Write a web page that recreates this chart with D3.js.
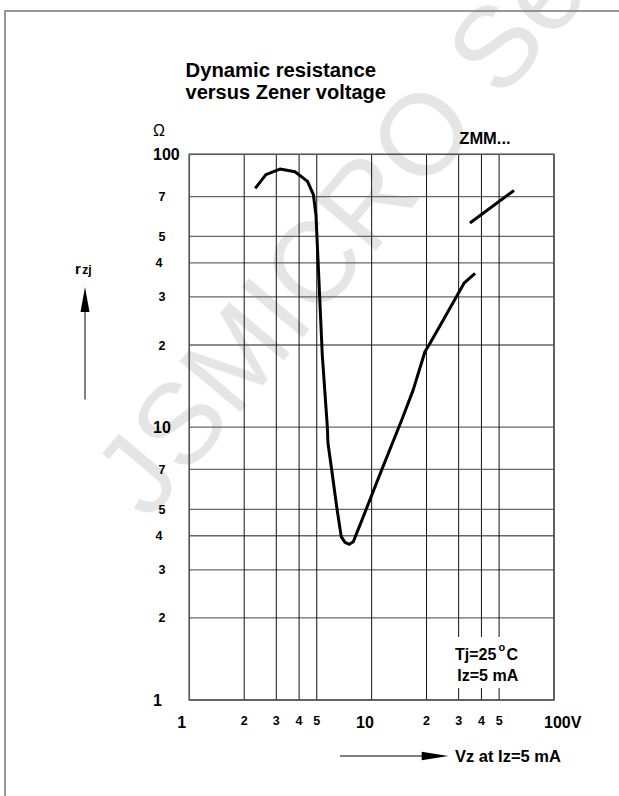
<!DOCTYPE html>
<html>
<head>
<meta charset="utf-8">
<script src="https://cdn.jsdelivr.net/npm/d3@7"></script>
<style>
  html, body { margin: 0; padding: 0; background: #fff; }
  svg { display: block; font-family: "Liberation Sans", Arial, sans-serif; }
</style>
</head>
<body>
<svg id="chart" width="619" height="796"></svg>
<script>
// ---------------- data ----------------
const curveVz = [2.30, 2.63, 3.14, 3.80, 4.45, 4.79, 4.95, 5.10, 5.36, 5.71, 5.76, 6.04, 6.43, 6.81, 7.14, 7.54, 7.93, 9.00, 11.35, 14.6, 16.9, 19.6, 20.9, 24.7, 32.1, 36.9];
const curveRz = [75.0, 84.3, 88.3, 86.3, 79.6, 71.2, 59.9, 38.7, 18.4, 10.1, 8.75, 6.97, 5.11, 3.97, 3.78, 3.72, 3.80, 4.70, 6.97, 10.6, 13.7, 18.9, 20.3, 24.7, 33.7, 36.6];
const upperVz = [34.6, 60.3];
const upperRz = [56.0, 73.7];

const xTicks = [1, 2, 3, 4, 5, 10, 20, 30, 40, 50, 100];
const xTickLabels = ["1", "2", "3", "4", "5", "10", "2", "3", "4", "5", "100V"];
const yTicks = [1, 2, 3, 4, 5, 7, 10, 20, 30, 40, 50, 70, 100];
const yTickLabels = ["1", "2", "3", "4", "5", "7", "10", "2", "3", "4", "5", "7", "100"];
const decades = [1, 10, 100];

const titleLines = ["Dynamic resistance", "versus Zener voltage"];
const seriesLabel = "ZMM...";
const xAxisTitle = "Vz at Iz=5 mA";
const unitLabel = "\u03A9";

(function () {
// ---------------- layout ----------------
const svg = d3.select("#chart");
const pL = 189.3, pR = 554, pT = 154.3, pB = 700;
const x = d3.scaleLog().domain([1, 100]).range([pL, pR]);
const y = d3.scaleLog().domain([1, 100]).range([pB, pT]);

svg.append("rect").attr("width", 619).attr("height", 796).attr("fill", "#fff");

// watermark
svg.append("text")
  .attr("transform", "translate(148,522) rotate(-50)")
  .attr("font-size", 115)
  .attr("fill", "#e5e5e5")
  .text("JSMICRO Se");

// outer frame
svg.append("rect")
  .attr("x", 5).attr("y", 11).attr("width", 640).attr("height", 820)
  .attr("fill", "none").attr("stroke", "#777").attr("stroke-width", 1.5);

// grid
const g = svg.append("g");
g.selectAll("line.h").data(yTicks).join("line")
  .attr("x1", pL).attr("x2", pR)
  .attr("y1", d => y(d)).attr("y2", d => y(d))
  .attr("stroke", "#666").attr("stroke-width", 1.3);
g.selectAll("line.v").data(xTicks).join("line")
  .attr("y1", pT).attr("y2", pB)
  .attr("x1", d => x(d)).attr("x2", d => x(d))
  .attr("stroke", "#111").attr("stroke-width", 1);
g.append("rect")
  .attr("x", pL).attr("y", pT).attr("width", pR - pL).attr("height", pB - pT)
  .attr("fill", "none").attr("stroke", "#555").attr("stroke-width", 1.5);

// annotation box (covers grid)
svg.append("rect").attr("x", 450).attr("y", 637).attr("width", 75).attr("height", 51).attr("fill", "#fff");

// curves
const line = d3.line().x(d => x(d[0])).y(d => y(d[1]));
svg.append("path")
  .datum(d3.zip(curveVz, curveRz))
  .attr("d", line)
  .attr("fill", "none").attr("stroke", "#000").attr("stroke-width", 3)
  .attr("stroke-linejoin", "round").attr("stroke-linecap", "butt");
svg.append("path")
  .datum(d3.zip(upperVz, upperRz))
  .attr("d", line)
  .attr("fill", "none").attr("stroke", "#000").attr("stroke-width", 3);

// y tick labels
yTicks.forEach((v, i) => {
  const isDec = decades.includes(v);
  svg.append("text")
    .attr("x", isDec ? 153 : (v === 4 || v === 40 ? 159 : 162))
    .attr("y", y(v) + (isDec ? 6 : 4.5))
    .attr("text-anchor", isDec ? "start" : "middle")
    .attr("font-size", isDec ? 16 : 12.5)
    .attr("font-weight", "bold")
    .text(yTickLabels[i]);
});

// x tick labels
xTicks.forEach((v, i) => {
  const isDec = decades.includes(v);
  let tx = x(v), anchor = "middle";
  if (v === 1) tx = x(v) - 7.6;
  if (v === 10) tx = x(v) - 6.7;
  if (v === 100) { tx = x(v) - 10; anchor = "start"; }
  svg.append("text")
    .attr("x", tx)
    .attr("y", isDec ? 728 : 725)
    .attr("text-anchor", anchor)
    .attr("font-size", isDec ? 16 : 12.5)
    .attr("font-weight", "bold")
    .text(xTickLabels[i]);
});

// title
svg.append("text").attr("x", 185.5).attr("y", 77).attr("font-size", 19.5).attr("font-weight", "bold")
  .attr("textLength", 190.5).attr("lengthAdjust", "spacingAndGlyphs").text(titleLines[0]);
svg.append("text").attr("x", 185.5).attr("y", 98.5).attr("font-size", 19.5).attr("font-weight", "bold")
  .attr("textLength", 200.5).attr("lengthAdjust", "spacingAndGlyphs").text(titleLines[1]);

// unit
svg.append("text").attr("x", 153).attr("y", 136).attr("font-size", 16).text(unitLabel);

// series label
svg.append("text").attr("x", 459.3).attr("y", 144).attr("font-size", 16.5).attr("font-weight", "bold").text(seriesLabel);

// conditions
const cond = svg.append("text").attr("font-size", 16).attr("font-weight", "bold");
cond.append("tspan").attr("x", 455).attr("y", 660).text("Tj=25");
cond.append("tspan").attr("x", 498.5).attr("y", 651).attr("font-size", 11).text("o");
cond.append("tspan").attr("x", 506.5).attr("y", 660).text("C");
svg.append("text").attr("x", 457.3).attr("y", 680.7).attr("font-size", 16).attr("font-weight", "bold").text("Iz=5 mA");

// y axis label + arrow
const rl = svg.append("text").attr("x", 75).attr("y", 274).attr("font-weight", "bold");
rl.append("tspan").attr("font-size", 15).text("r");
rl.append("tspan").attr("font-size", 12).attr("dx", 1.5).text("zj");
svg.append("line").attr("x1", 85).attr("x2", 85).attr("y1", 310).attr("y2", 399.5)
  .attr("stroke", "#000").attr("stroke-width", 1);
svg.append("path").attr("d", "M85,287 L80.5,312 L89.5,312 Z").attr("fill", "#000");

// x axis label + arrow
svg.append("line").attr("x1", 340).attr("x2", 425).attr("y1", 756).attr("y2", 756)
  .attr("stroke", "#000").attr("stroke-width", 1);
svg.append("path").attr("d", "M448.3,756 L421.7,751.7 L421.7,760.3 Z").attr("fill", "#000");
svg.append("text").attr("x", 455).attr("y", 762).attr("font-size", 16.5).attr("font-weight", "bold").text(xAxisTitle);
})();
</script>
</body>
</html>
